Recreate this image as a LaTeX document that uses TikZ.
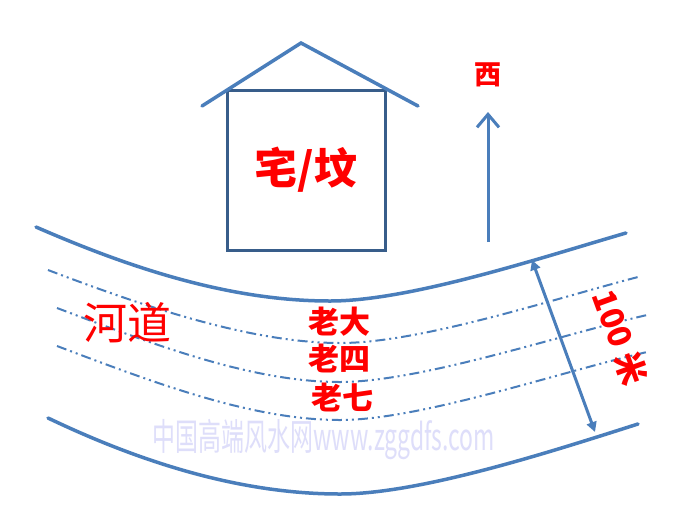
\documentclass[tikz,border=0pt]{standalone}
\usepackage{fontspec}
\newfontfamily\cjk{Noto Sans CJK SC}
\usetikzlibrary{arrows.meta}
\definecolor{riverblue}{RGB}{74,126,187}
\definecolor{boxblue}{RGB}{56,93,138}
\definecolor{marklav}{RGB}{222,222,250}
\begin{document}
\begin{tikzpicture}[x=1pt,y=-1pt]
  \tikzset{BankStyle/.style = {draw=riverblue,line width=3.5pt,line cap=round},
    LaneStyle/.style = {draw=riverblue,line width=2pt,dash pattern=on 10pt off 4pt on 2pt off 4pt on 2pt off 4pt},
    RedStyle/.style = {text=red,inner sep=0pt}}
\useasboundingbox[fill=white] (0,0) rectangle (695,520);
\node[text=marklav,inner sep=0pt,xscale=0.62,font=\cjk\fontsize{37}{37}\selectfont] (mark) at (324,440) {中国高端风水网www.zggdfs.com};
%
\node[draw=boxblue,line width=3pt,minimum width=158pt,minimum height=160pt,RedStyle,font=\cjk\bfseries\fontsize{43}{43}\selectfont] (house) at (306,170) {宅/坟};
\coordinate (roofL) at (202,106);
\coordinate (roofT) at (301,43);
\coordinate (roofR) at (418,106);
\draw[riverblue,line width=3.5pt,line cap=round,line join=miter] (roofL) -- (roofT) -- (roofR);
%
\node[RedStyle,font=\cjk\bfseries\fontsize{27}{27}\selectfont] (west) at (488,75) {西};
\coordinate (westfoot) at (488,242);
\coordinate (westtip) at (488,112);
\draw[riverblue,line width=3pt,-{Straight Barb[length=13pt,width=22pt,line width=3pt]}] (westfoot) -- (westtip);
%
\draw[BankStyle] (36,227) .. controls (130,268) and (230,301) .. (330,301) .. controls (410,301) and (540,258) .. (626,233);
\draw[BankStyle] (48,418) .. controls (140,462) and (240,494) .. (340,494) .. controls (420,494) and (550,452) .. (638,424);
\draw[LaneStyle] (48,270) .. controls (140,305) and (250,343) .. (340,343) .. controls (420,343) and (550,300) .. (638,277);
\draw[LaneStyle] (57,308) .. controls (150,343) and (250,382) .. (340,382) .. controls (420,382) and (560,335) .. (647,315);
\draw[LaneStyle] (57,346) .. controls (150,381) and (250,420) .. (340,420) .. controls (420,420) and (560,372) .. (647,352);
%
\node[RedStyle,font=\cjk\fontsize{44}{44}\selectfont] (river) at (127,323) {河道};
\node[RedStyle,font=\cjk\bfseries\fontsize{31}{31}\selectfont] (eldest) at (339,322) {老大};
\node[RedStyle,font=\cjk\bfseries\fontsize{31}{31}\selectfont] (fourth) at (339,358) {老四};
\node[RedStyle,font=\cjk\bfseries\fontsize{31}{31}\selectfont] (seventh) at (342,397) {老七};
%
\coordinate (wideA) at (532,260);
\coordinate (wideB) at (595,432);
\draw[riverblue,line width=3pt,{Triangle[length=10pt,width=10pt]}-{Triangle[length=10pt,width=10pt]}] (wideA) -- (wideB);
\node[RedStyle,rotate=-70,font=\cjk\bfseries\fontsize{32}{32}\selectfont] (width) at (620,337) {100 米};
\end{tikzpicture}
\end{document}
